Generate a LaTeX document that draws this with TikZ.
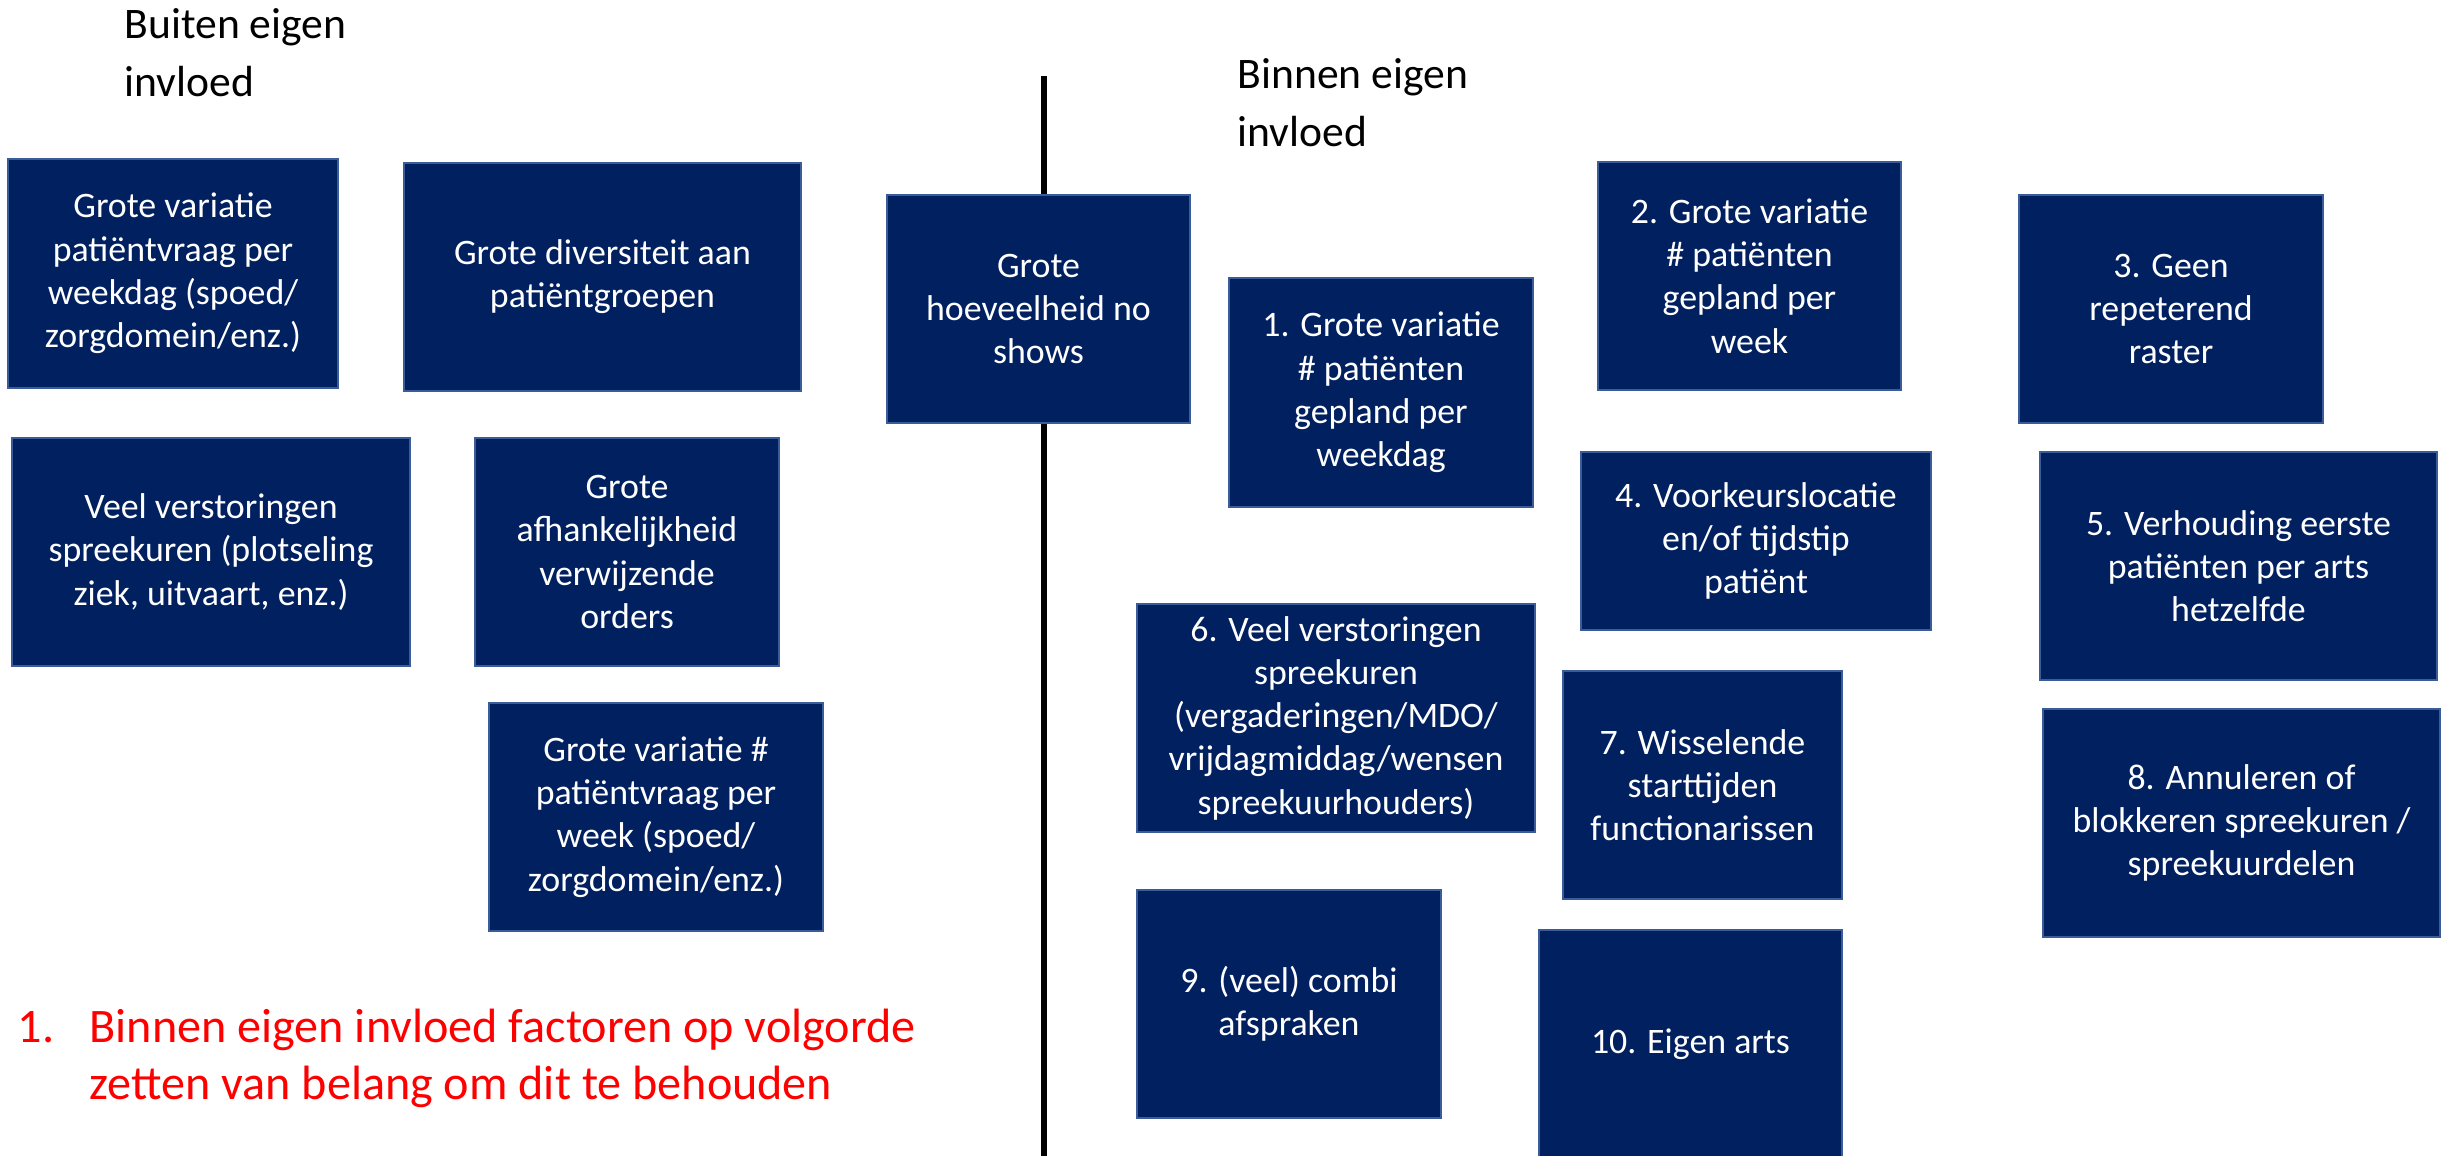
\documentclass[tikz,border=0pt]{standalone}
\usepackage{fontspec}
\setmainfont{Carlito}
\usetikzlibrary{positioning}

\definecolor{vlak}{HTML}{002060}
\definecolor{rand}{HTML}{3A5C99}
\definecolor{rood}{HTML}{FF0000}

\tikzset{
	blok/.style 2 args={draw=rand, fill=vlak, line width=0.8pt, text=white,
		align=center, inner sep=2pt, minimum width=#1cm, minimum height=#2cm,
		font=\fontsize{10.2}{12.3}\selectfont},
	kop/.style={anchor=north west, align=left, inner sep=0pt,
		font=\fontsize{12.4}{16.4}\selectfont},
	scheiding/.style={line width=1.7pt, black}
}

\begin{document}
\begin{tikzpicture}
	\useasboundingbox (0,0) rectangle (24.41,-11.56);
	% scheidslijn
	\coordinate (boven) at (10.44,-0.76);
	\coordinate (onder) at (10.44,-11.56);
	\draw[scheiding] (boven) -- (onder);

	\node[kop] (buiten) at (1.24,-0.08) {Buiten eigen\\invloed};
	\node[kop] (binnen) at (12.37,-0.58) {Binnen eigen\\invloed};

	% buiten eigen invloed
	\node[blok={3.30}{2.29}] (b1) at (1.73,-2.735) {Grote variatie\\patiëntvraag per\\weekdag (spoed/\\zorgdomein/enz.)};
	\node[blok={3.97}{2.28}] (b2) at (6.025,-2.77) {Grote diversiteit aan\\patiëntgroepen};
	\node[blok={3.03}{2.28}] (b3) at (10.385,-3.09) {Grote\\hoeveelheid no\\shows};
	\node[blok={3.98}{2.28}] (b4) at (2.11,-5.52) {Veel verstoringen\\spreekuren (plotseling\\ziek, uitvaart, enz.)};
	\node[blok={3.04}{2.28}] (b5) at (6.27,-5.52) {Grote\\afhankelijkheid\\verwijzende\\orders};
	\node[blok={3.34}{2.28}] (b6) at (6.56,-8.17) {Grote variatie \#\\patiëntvraag per\\week (spoed/\\zorgdomein/enz.)};

	% binnen eigen invloed
	\node[blok={3.04}{2.29}] (f1) at (13.81,-3.925) {1. Grote variatie\\\# patiënten\\gepland per\\weekdag};
	\node[blok={3.03}{2.28}] (f2) at (17.495,-2.76) {2. Grote variatie\\\# patiënten\\gepland per\\week};
	\node[blok={3.04}{2.28}] (f3) at (21.71,-3.09) {3. Geen\\repeterend\\raster};
	\node[blok={3.50}{1.78}] (f4) at (17.56,-5.41) {4. Voorkeurslocatie\\en/of tijdstip\\patiënt};
	\node[blok={3.97}{2.28}] (f5) at (22.385,-5.66) {5. Verhouding eerste\\patiënten per arts\\hetzelfde};
	\node[blok={3.98}{2.28}] (f6) at (13.36,-7.18) {6. Veel verstoringen\\spreekuren\\(vergaderingen/MDO/\\vrijdagmiddag/wensen\\spreekuurhouders)};
	\node[blok={2.79}{2.28}] (f7) at (17.025,-7.85) {7. Wisselende\\starttijden\\functionarissen};
	\node[blok={3.97}{2.28}] (f8) at (22.415,-8.23) {8. Annuleren of\\blokkeren spreekuren /\\spreekuurdelen};
	\node[blok={3.04}{2.28}] (f9) at (12.89,-10.04) {9. (veel) combi\\afspraken};
	\node[blok={3.03}{2.28}] (f10) at (16.905,-10.44) {10. Eigen arts};

	\node[kop, text=rood, font=\fontsize{13.7}{16.3}\selectfont] (opmerking) at (0.17,-10.08) {\makebox[0.72cm][l]{1.}Binnen eigen invloed factoren op volgorde\\\hspace*{0.72cm}zetten van belang om dit te behouden};
\end{tikzpicture}
\end{document}
